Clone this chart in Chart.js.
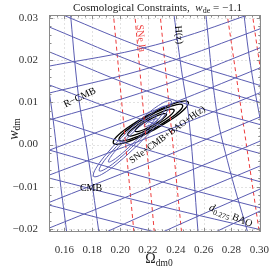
<!DOCTYPE html>
<html>
<head>
<meta charset="utf-8">
<script src="https://cdn.jsdelivr.net/npm/chart.js@4.4.1/dist/chart.umd.min.js"></script>
<style>
  html, body { margin: 0; padding: 0; background: #fff; }
  #wrap { width: 273px; height: 268px; }
</style>
</head>
<body>
<div id="wrap"><canvas id="chart" width="273" height="268"></canvas></div>
<script>
// ============================================================
// Cosmological Constraints, w_de = -1.1  (Omega_dm0 vs w_dm)
// ============================================================

// ── Axes ──
const xTicks = [0.16, 0.18, 0.20, 0.22, 0.24, 0.26, 0.28, 0.30];
const yTicks = [-0.02, -0.01, 0.00, 0.01, 0.02, 0.03];
const xRange = [0.149, 0.301];
const yRange = [-0.0207, 0.0307];

// ── SNe Ia contours (red dashed) ──
const snLines = [
  [[0.1946, 0.0331], [0.2105, -0.0226]],
  [[0.2100, 0.0331], [0.2251, -0.0226]],
  [[0.2281, 0.0331], [0.2447, -0.0226]],
  [[0.2759, 0.0331], [0.3008, -0.0226]],
  [[0.2940, 0.0331], [0.3040, 0.0105]],
];

// ── H(z) contours (steep blue) ──
const hzLines = [
  [[0.1457, 0.0200], [0.1520, 0.0058], [0.1569, -0.0084], [0.1617, -0.0207], [0.1624, -0.0226]],
  [[0.1638, 0.0331], [0.1701, 0.0117], [0.1764, -0.0013], [0.1848, -0.0207], [0.1855, -0.0226]],
  [[0.2378, 0.0331], [0.2441, 0.0177], [0.2497, 0.0053], [0.2560, -0.0207], [0.2567, -0.0226]],
  [[0.2609, 0.0331], [0.2692, 0.0082], [0.2770, -0.0037], [0.2916, -0.0207], [0.2937, -0.0226]],
  [[0.2881, 0.0331], [0.2937, 0.0188], [0.3034, 0.0011]],
];

// ── R-CMB contours (rising blue) ──
const rcmbLines = [
  [[0.1429, 0.0182], [0.2253, 0.0236], [0.3104, 0.0328]],
  [[0.1429, 0.0117], [0.2253, 0.0186], [0.3104, 0.0286]],
  [[0.1429, 0.0052], [0.2253, 0.0134], [0.3104, 0.0242]],
  [[0.1429, -0.0021], [0.2253, 0.0082], [0.3104, 0.0195]],
  [[0.1429, -0.0080], [0.2253, 0.0023], [0.3104, 0.0136]],
  [[0.1429, -0.0145], [0.2253, -0.0037], [0.3104, 0.0079]],
  [[0.1429, -0.0206], [0.2253, -0.0096], [0.3104, 0.0022]],
  [[0.1429, -0.0279], [0.2253, -0.0155], [0.3104, -0.0037]],
  [[0.1429, -0.0343], [0.2253, -0.0215], [0.3104, -0.0091]],
  [[0.1429, -0.0403], [0.2253, -0.0274], [0.3104, -0.0142]],
  [[0.1429, -0.0461], [0.2253, -0.0328], [0.3104, -0.0194]],
];

// ── d_0.275 BAO contours (falling blue) ──
const baoLines = [
  [[0.1429, 0.0329], [0.2253, 0.0219], [0.3104, 0.0130]],
  [[0.1429, 0.0287], [0.2253, 0.0177], [0.3104, 0.0090]],
  [[0.1429, 0.0228], [0.2253, 0.0120], [0.3104, 0.0038]],
  [[0.1429, 0.0149], [0.2253, 0.0049], [0.3104, -0.0030]],
  [[0.1429, 0.0069], [0.2253, -0.0018], [0.3104, -0.0097]],
  [[0.1429, -0.0007], [0.2253, -0.0084], [0.3104, -0.0158]],
  [[0.1429, -0.0074], [0.2253, -0.0143], [0.3104, -0.0209]],
  [[0.1429, -0.0138], [0.2253, -0.0207], [0.3104, -0.0270]],
];

// ── CMB contours (blue, elongated) ──
const cmbRings = [
  [[0.2129, -0.00004], [0.1985, -0.00432], [0.1868, -0.00707], [0.1810, -0.00754], [0.1827, -0.00561], [0.1914, -0.00179],
   [0.2048, 0.00288], [0.2192, 0.00717], [0.2309, 0.00991], [0.2367, 0.01038], [0.2350, 0.00845], [0.2263, 0.00464], [0.2129, -0.00004]],
  [[0.2117, 0.00039], [0.1995, -0.00330], [0.1897, -0.00572], [0.1851, -0.00623], [0.1868, -0.00469], [0.1945, -0.00151],
   [0.2060, 0.00245], [0.2183, 0.00614], [0.2280, 0.00857], [0.2327, 0.00908], [0.2309, 0.00754], [0.2233, 0.00436], [0.2117, 0.00039]],
  [[0.2108, 0.00074], [0.2019, -0.00195], [0.1949, -0.00373], [0.1917, -0.00412], [0.1930, -0.00304], [0.1986, -0.00076],
   [0.2070, 0.00211], [0.2158, 0.00479], [0.2228, 0.00657], [0.2261, 0.00697], [0.2247, 0.00588], [0.2191, 0.00360], [0.2108, 0.00074]],
];

// ── SNe+CMB+BAO+H(z) combined contours (black) ──
const comboRings = [
  [[0.2247, 0.00354], [0.2109, 0.00134], [0.2001, 0.00018], [0.1952, 0.00036], [0.1975, 0.00185], [0.2064, 0.00424],
   [0.2195, 0.00688], [0.2333, 0.00908], [0.2441, 0.01025], [0.2490, 0.01006], [0.2467, 0.00857], [0.2378, 0.00618], [0.2247, 0.00354]],
  [[0.2243, 0.00379], [0.2126, 0.00192], [0.2034, 0.00093], [0.1993, 0.00109], [0.2012, 0.00235], [0.2088, 0.00438],
   [0.2199, 0.00663], [0.2316, 0.00850], [0.2408, 0.00949], [0.2449, 0.00933], [0.2430, 0.00807], [0.2354, 0.00604], [0.2243, 0.00379]],
  [[0.2237, 0.00417], [0.2152, 0.00281], [0.2085, 0.00209], [0.2054, 0.00221], [0.2069, 0.00313], [0.2124, 0.00461],
   [0.2205, 0.00625], [0.2290, 0.00761], [0.2357, 0.00833], [0.2388, 0.00822], [0.2373, 0.00729], [0.2318, 0.00581], [0.2237, 0.00417]],
  [[0.2232, 0.00451], [0.2174, 0.00358], [0.2129, 0.00310], [0.2108, 0.00317], [0.2118, 0.00380], [0.2155, 0.00480],
   [0.2210, 0.00591], [0.2268, 0.00684], [0.2313, 0.00732], [0.2334, 0.00725], [0.2324, 0.00662], [0.2287, 0.00562], [0.2232, 0.00451]],
];
const bestRing = [[0.2227, 0.00483], [0.2191, 0.00433], [0.2173, 0.00434], [0.2183, 0.00486], [0.2215, 0.00559],
  [0.2251, 0.00609], [0.2269, 0.00608], [0.2259, 0.00556], [0.2227, 0.00483]];

// ── Styles ──
const SERIF = '"Liberation Serif", "DejaVu Serif", serif';
const BLUE = '#5a5cb2';
const RED = '#ee3b3b';

function lineSet(pts, color, width, dash, tension) {
  return {
    data: pts.map(([x, y]) => ({ x, y })),
    borderColor: color,
    borderWidth: width,
    borderDash: dash || [],
    tension: tension,
    showLine: true,
    pointRadius: 0,
    fill: false,
  };
}

const datasets = [
  ...rcmbLines.map(p => lineSet(p, BLUE, 1, null, 0.4)),
  ...baoLines.map(p => lineSet(p, BLUE, 1, null, 0.4)),
  ...hzLines.map(p => lineSet(p, BLUE, 1, null, 0.4)),
  ...snLines.map(p => lineSet(p, RED, 1, [4, 3], 0)),
  ...cmbRings.map(p => lineSet(p, BLUE, 1, null, 0.4)),
  ...comboRings.map(p => lineSet(p, '#000', 1.3, null, 0.4)),
  lineSet(bestRing, BLUE, 1, null, 0.4),
];

const fmt = v => (v < 0 ? '\u2212' : '') + Math.abs(v).toFixed(2);

// ── Text helper: runs of text with sub/italic pieces ──
function drawRuns(ctx, runs, x, y, rot, color) {
  ctx.save();
  ctx.translate(x, y);
  ctx.rotate(rot * Math.PI / 180);
  ctx.fillStyle = color;
  ctx.textBaseline = 'alphabetic';
  let w = 0;
  runs.forEach(r => { ctx.font = r.font; w += ctx.measureText(r.t).width; });
  let cx = -w / 2;
  runs.forEach(r => {
    ctx.font = r.font;
    ctx.fillText(r.t, cx, (r.dy || 0) + 3.5);
    cx += ctx.measureText(r.t).width;
  });
  ctx.restore();
}

// ── Grid (under the curves) ──
const gridPlugin = {
  id: 'grid',
  beforeDatasetsDraw(chart) {
    const { ctx, chartArea: a, scales: { x, y } } = chart;
    ctx.save();
    ctx.strokeStyle = '#e2e2e2';
    ctx.lineWidth = 1;
    ctx.setLineDash([2, 2]);
    xTicks.forEach(v => {
      const px = Math.round(x.getPixelForValue(v)) + 0.5;
      ctx.beginPath(); ctx.moveTo(px, a.top); ctx.lineTo(px, a.bottom); ctx.stroke();
    });
    yTicks.forEach(v => {
      const py = Math.round(y.getPixelForValue(v)) + 0.5;
      ctx.beginPath(); ctx.moveTo(a.left, py); ctx.lineTo(a.right, py); ctx.stroke();
    });
    ctx.restore();
  },
};

// ── Labels, frame, ticks ──
const decoPlugin = {
  id: 'deco',
  afterDatasetsDraw(chart) {
    const { ctx, scales: { x, y } } = chart;
    const at = (vx, vy) => [x.getPixelForValue(vx), y.getPixelForValue(vy)];
    const f = (s, it) => `${it ? 'italic ' : ''}${s}px ${SERIF}`;

    let [px, py] = at(0.1708, 0.0113);
    drawRuns(ctx, [{ t: 'R\u2212CMB', font: f(10) }], px, py, -26, '#000');
    [px, py] = at(0.2155, 0.0252);
    drawRuns(ctx, [{ t: 'SNe Ia', font: f(10) }], px, py, 84, RED);
    [px, py] = at(0.2427, 0.0260);
    drawRuns(ctx, [{ t: 'H(z)', font: f(10) }], px, py, 84, '#000');
    [px, py] = at(0.2336, 0.0025);
    drawRuns(ctx, [{ t: 'SNe+CMB+BAO+H(z)', font: f(9.5) }], px, py, -36, '#000');
    [px, py] = at(0.1792, -0.0101);
    drawRuns(ctx, [{ t: 'CMB', font: f(10) }], px, py, 0, '#000');
    [px, py] = at(0.2797, -0.0167);
    drawRuns(ctx, [{ t: 'd', font: f(10.5, true) }, { t: '0.275', font: f(7.5), dy: 2.5 }, { t: ' BAO', font: f(10) }], px, py, 22, '#000');
  },
  afterDraw(chart) {
    const { ctx, chartArea: a, scales: { x, y } } = chart;
    ctx.save();
    ctx.strokeStyle = '#8a8a8a';
    ctx.lineWidth = 1;
    ctx.strokeRect(Math.round(a.left) + 0.5, Math.round(a.top) + 0.5,
      Math.round(a.right - a.left) - 1, Math.round(a.bottom - a.top) - 1);
    // minor + major ticks, inward on all four sides
    const tick = (p, len, vertical) => {
      ctx.beginPath();
      if (vertical) {
        ctx.moveTo(p, a.bottom); ctx.lineTo(p, a.bottom - len);
        ctx.moveTo(p, a.top); ctx.lineTo(p, a.top + len);
      } else {
        ctx.moveTo(a.left, p); ctx.lineTo(a.left + len, p);
        ctx.moveTo(a.right, p); ctx.lineTo(a.right - len, p);
      }
      ctx.stroke();
    };
    for (let i = 30; i <= 60; i++) {
      const p = Math.round(x.getPixelForValue(i * 0.005)) + 0.5;
      if (p < a.left || p > a.right) continue;
      tick(p, i % 4 === 0 ? 4 : 2.5, true);
    }
    for (let i = -10; i <= 15; i++) {
      const p = Math.round(y.getPixelForValue(i * 0.002)) + 0.5;
      if (p < a.top || p > a.bottom) continue;
      tick(p, i % 5 === 0 ? 4 : 2.5, false);
    }
    ctx.restore();

    // title and axis titles
    const f = (s, it) => `${it ? 'italic ' : ''}${s}px ${SERIF}`;
    drawRuns(ctx, [
      { t: 'Cosmological Constraints,  ', font: f(11) },
      { t: 'w', font: f(11, true) },
      { t: 'de', font: f(8), dy: 2 },
      { t: ' = \u22121.1', font: f(11) },
    ], 157.5, 7.5, 0, '#222');
    drawRuns(ctx, [{ t: 'w', font: f(14, true) }, { t: 'dm', font: f(9.5), dy: 2.5 }], 14, 129, -90, '#222');
    drawRuns(ctx, [{ t: '\u03A9', font: f(14) }, { t: 'dm0', font: f(9.5), dy: 3 }], 159, 259.5, 0, '#222');
  },
};

new Chart(document.getElementById('chart'), {
  type: 'scatter',
  data: { datasets },
  options: {
    responsive: false,
    devicePixelRatio: 1,
    animation: false,
    layout: { padding: { top: 15, right: 6, left: 0, bottom: 0 } },
    elements: { line: { capBezierPoints: false } },
    plugins: { legend: { display: false }, tooltip: { enabled: false } },
    scales: {
      x: {
        type: 'linear', min: xRange[0], max: xRange[1],
        afterBuildTicks: s => { s.ticks = xTicks.map(value => ({ value })); },
        afterFit: s => { s.height = 36; },
        grid: { display: false }, border: { display: false },
        ticks: { font: { family: SERIF, size: 11 }, color: '#333', padding: 4, maxRotation: 0, autoSkip: false, callback: fmt },
      },
      y: {
        type: 'linear', min: yRange[0], max: yRange[1],
        afterBuildTicks: s => { s.ticks = yTicks.map(value => ({ value })); },
        afterFit: s => { s.width = 49; },
        grid: { display: false }, border: { display: false },
        ticks: { font: { family: SERIF, size: 11 }, color: '#333', padding: 3, autoSkip: false, callback: fmt },
      },
    },
  },
  plugins: [gridPlugin, decoPlugin],
});
</script>
</body>
</html>
